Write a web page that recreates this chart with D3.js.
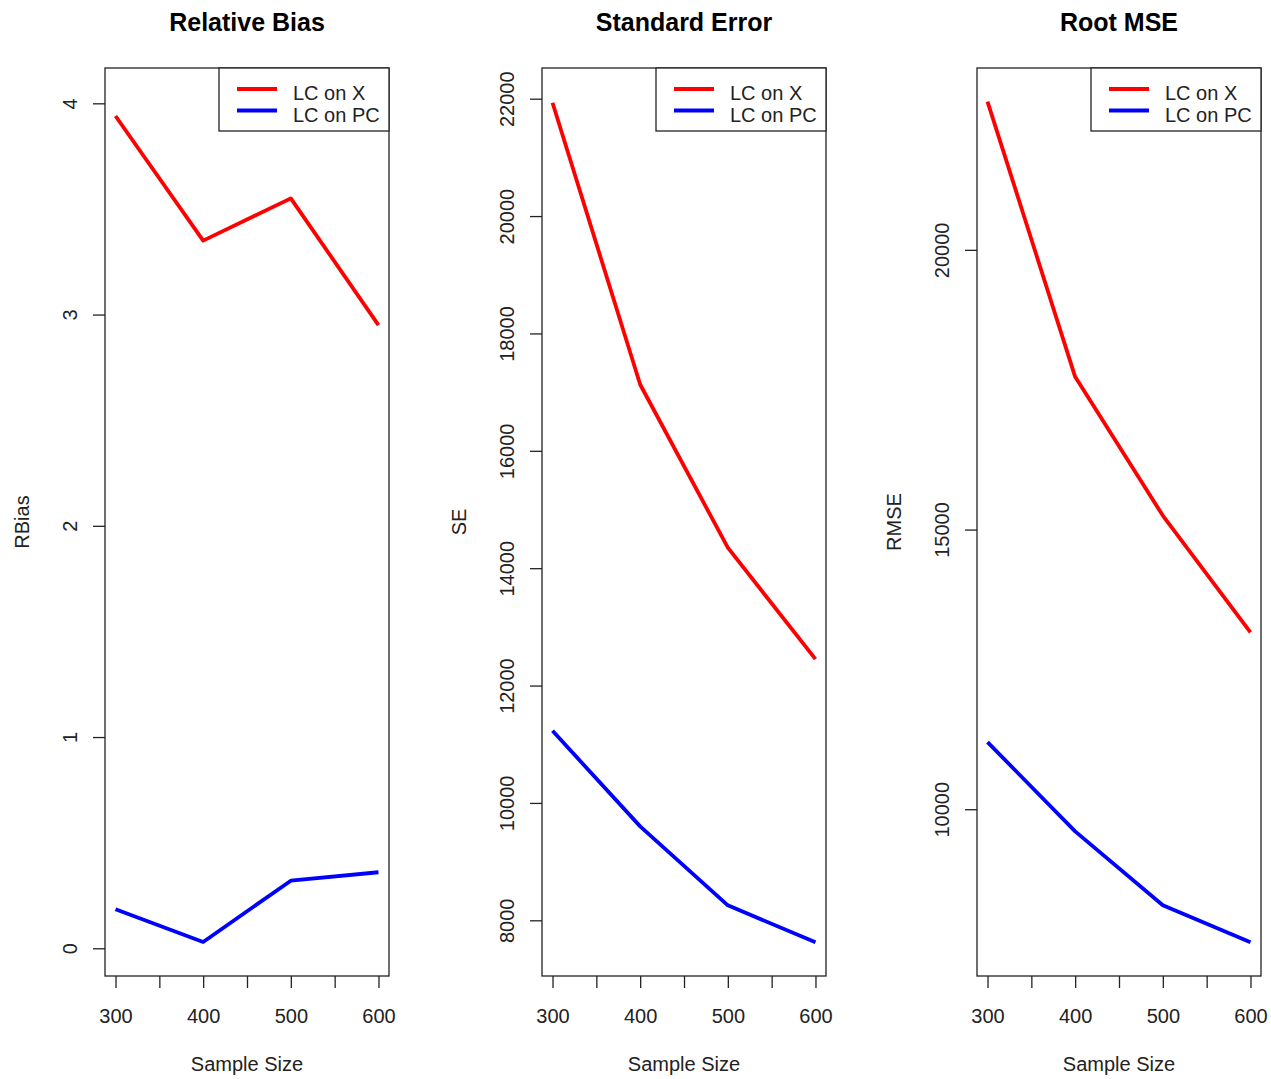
<!DOCTYPE html>
<html>
<head>
<meta charset="utf-8">
<script src="https://cdn.jsdelivr.net/npm/d3@7"></script>
<style>
  body { margin: 0; background: #fff; }
  text { font-family: "Liberation Sans", Arial, sans-serif; }
</style>
</head>
<body>
<div id="chart"></div>
<script>
// data
var sampleSizes = [300, 400, 500, 600];
var seriesNames = ["LC on X", "LC on PC"];
var seriesColors = ["#ff0000", "#0000ff"];

var rbiasX  = [3.94, 3.35, 3.55, 2.95];
var rbiasPC = [0.185, 0.03, 0.32, 0.36];
var seX     = [21930, 17130, 14350, 12450];
var sePC    = [11230, 9600, 8255, 7625];
var rmseX   = [22650, 17730, 15250, 13160];
var rmsePC  = [11200, 9605, 8285, 7620];

var xTicks = [300, 350, 400, 450, 500, 550, 600];
var xLabels = [300, 400, 500, 600];
var rbiasTicks = [0, 1, 2, 3, 4];
var seTicks = [8000, 10000, 12000, 14000, 16000, 18000, 20000, 22000];
var rmseTicks = [10000, 15000, 20000];

// ylim per panel (R pads these by 4%)
var rbiasLim = [0.028, 4.008];
var seLim = [7624, 21950];
var rmseLim = [7620, 22650];

var panels = [
    {title: "Relative Bias", ylab: "RBias", series: [rbiasX, rbiasPC], ticks: rbiasTicks, lim: rbiasLim, left: 105},
    {title: "Standard Error", ylab: "SE", series: [seX, sePC], ticks: seTicks, lim: seLim, left: 542},
    {title: "Root MSE", ylab: "RMSE", series: [rmseX, rmsePC], ticks: rmseTicks, lim: rmseLim, left: 977}
];

var width = 1271, height = 1079;
var boxW = 284, boxTop = 68, boxBottom = 976;

var svg = d3.select("#chart")
    .append("svg")
    .attr("width", width)
    .attr("height", height);

function pad(lim) {
    var r = lim[1] - lim[0];
    return [lim[0] - 0.04 * r, lim[1] + 0.04 * r];
}

panels.forEach(function(p) {
    var g = svg.append("g");
    var left = p.left, right = p.left + boxW;

    var x = d3.scaleLinear()
        .domain(pad([300, 600]))
        .range([left, right]);
    var y = d3.scaleLinear()
        .domain(pad(p.lim))
        .range([boxBottom, boxTop]);

    // box
    g.append("rect")
        .attr("x", left).attr("y", boxTop)
        .attr("width", boxW).attr("height", boxBottom - boxTop)
        .attr("fill", "none").attr("stroke", "#222").attr("stroke-width", 1.3);

    // x axis
    var xAxis = d3.axisBottom(x)
        .tickValues(xTicks)
        .tickSize(12)
        .tickFormat(function(d) { return xLabels.indexOf(d) >= 0 ? d : ""; });
    var gx = g.append("g")
        .attr("transform", "translate(0," + boxBottom + ")")
        .call(xAxis);
    gx.select(".domain").remove();
    gx.selectAll(".tick line").attr("stroke", "#222").attr("stroke-width", 1.3);
    gx.selectAll(".tick text")
        .attr("y", 47).attr("dy", null)
        .attr("fill", "#222")
        .style("font-size", "20px");

    // y axis, rotated labels as in R
    var yAxis = d3.axisLeft(y)
        .tickValues(p.ticks)
        .tickSize(12)
        .tickFormat(d3.format("d"));
    var gy = g.append("g")
        .attr("transform", "translate(" + left + ",0)")
        .call(yAxis);
    gy.select(".domain").remove();
    gy.selectAll(".tick line").attr("stroke", "#222").attr("stroke-width", 1.3);
    gy.selectAll(".tick text")
        .attr("x", null).attr("dy", null)
        .attr("text-anchor", "middle")
        .attr("dominant-baseline", "central")
        .attr("transform", "translate(-35,0) rotate(-90)")
        .attr("fill", "#222")
        .style("font-size", "20px");

    // lines
    var line = d3.line()
        .x(function(d, i) { return x(sampleSizes[i]); })
        .y(function(d) { return y(d); });
    p.series.forEach(function(s, k) {
        g.append("path")
            .datum(s)
            .attr("d", line)
            .attr("fill", "none")
            .attr("stroke", seriesColors[k])
            .attr("stroke-width", 3.8)
            .attr("stroke-linejoin", "round");
    });

    // title and axis labels
    g.append("text")
        .attr("x", (left + right) / 2).attr("y", 31)
        .attr("text-anchor", "middle")
        .style("font-size", "25px").style("font-weight", "bold")
        .text(p.title);
    g.append("text")
        .attr("x", (left + right) / 2).attr("y", 1071)
        .attr("text-anchor", "middle")
        .attr("fill", "#222")
        .style("font-size", "20px")
        .text("Sample Size");
    g.append("text")
        .attr("transform", "translate(" + (left - 83) + "," + ((boxTop + boxBottom) / 2) + ") rotate(-90)")
        .attr("text-anchor", "middle")
        .attr("dominant-baseline", "central")
        .attr("fill", "#222")
        .style("font-size", "20px")
        .text(p.ylab);

    // legend, top right
    var lw = 170, lh = 63;
    var lg = g.append("g")
        .attr("transform", "translate(" + (right - lw) + "," + boxTop + ")");
    lg.append("rect")
        .attr("width", lw).attr("height", lh)
        .attr("fill", "#fff").attr("stroke", "#222").attr("stroke-width", 1.3);
    seriesNames.forEach(function(name, k) {
        var ly = 21 + k * 21.5;
        lg.append("line")
            .attr("x1", 18).attr("x2", 58)
            .attr("y1", ly).attr("y2", ly)
            .attr("stroke", seriesColors[k]).attr("stroke-width", 3.8);
        lg.append("text")
            .attr("x", 74).attr("y", ly + 11)
            .attr("fill", "#222")
            .style("font-size", "20px")
            .text(name);
    });
});
</script>
</body>
</html>
